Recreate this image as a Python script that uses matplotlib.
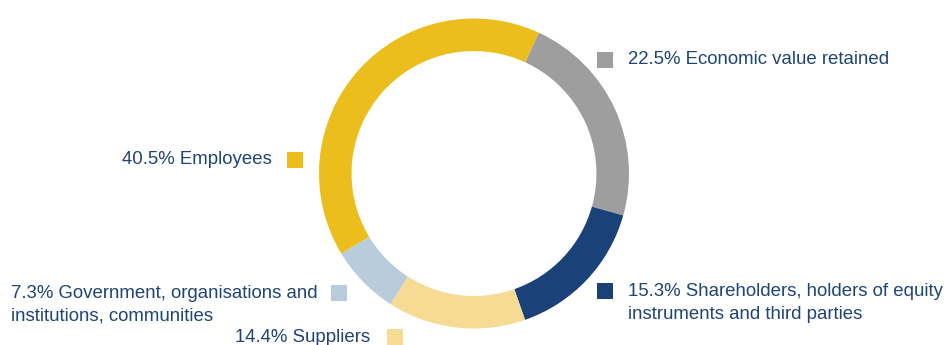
import matplotlib
matplotlib.use("Agg")
import matplotlib.pyplot as plt
from matplotlib.patches import Rectangle

# Data
categories = ["Economic value retained",
              "Shareholders, holders of equity\ninstruments and third parties",
              "Suppliers",
              "Government, organisations and\ninstitutions, communities",
              "Employees"]
values = [22.5, 15.3, 14.4, 7.3, 40.5]
colors = ["#9d9e9d", "#1a4178", "#f5db93", "#b9ccdb", "#ebbe1e"]

W, H = 948, 345
fig = plt.figure(figsize=(W / 100, H / 100), dpi=100)
plt.rcParams['font.family'] = ['Liberation Sans', 'DejaVu Sans']
txt_color = "#1f4476"

# donut axes: center (474,173) px, radius 155 px
cx, cy, r = 474, 173.5, 155
ax = fig.add_axes([(cx - r) / W, (H - cy - r) / H, 2 * r / W, 2 * r / H])
ax.pie(values, colors=colors, startangle=65.3, counterclock=False, radius=1,
       wedgeprops=dict(width=0.21, edgecolor='none'))
ax.set_xlim(-1, 1)
ax.set_ylim(-1, 1)
ax.set_aspect('equal')
ax.axis('off')

# overlay axes in pixel coords for labels
ov = fig.add_axes([0, 0, 1, 1])
ov.set_xlim(0, W)
ov.set_ylim(H, 0)
ov.axis('off')

fs = 13.4
labels = [f"{v}% {c}" for v, c in zip(values, categories)]
# (square_left, square_center_y, text_x, text_y, ha)
layout = [
    (597, 60, 628, 60, 'left'),
    (597, 291, 628, 303, 'left'),
    (387, 337, 370, 337, 'right'),
    (331, 293, 11, 304.5, 'left'),
    (287, 160, 272, 160, 'right'),
]
for (sx, sy, tx, ty, ha), lab, col in zip(layout, labels, colors):
    ov.add_patch(Rectangle((sx, sy - 8), 16, 16, facecolor=col, edgecolor='none'))
    ov.text(tx, ty, lab, ha=ha, va='center', fontsize=fs, color=txt_color,
            linespacing=1.42)

fig.savefig("out.png", dpi=100)
